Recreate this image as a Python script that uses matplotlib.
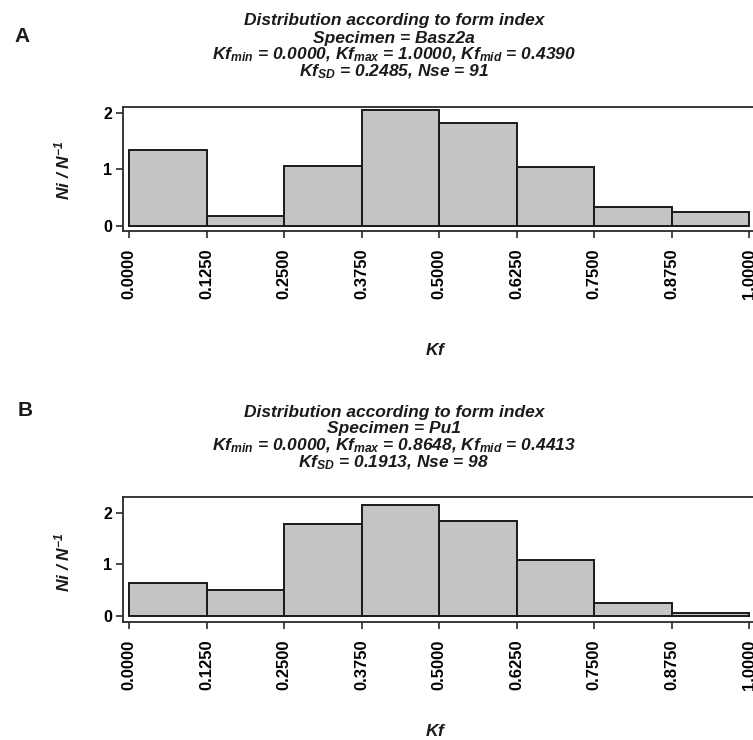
import matplotlib
matplotlib.use("Agg")
import matplotlib.pyplot as plt
import numpy as np

plt.rcParams['font.family'] = ['Liberation Sans', 'DejaVu Sans']
plt.rcParams['mathtext.fontset'] = 'custom'
plt.rcParams['mathtext.it'] = 'Liberation Sans:bold:italic'
plt.rcParams['mathtext.rm'] = 'Liberation Sans:bold:italic'
plt.rcParams['mathtext.bf'] = 'Liberation Sans:bold:italic'

# bin edges (Kf) and heights
bin_edges = [0.0, 0.125, 0.25, 0.375, 0.5, 0.625, 0.75, 0.875, 1.0]
heights_a = [1.34, 0.17, 1.06, 2.04, 1.81, 1.04, 0.34, 0.24]
heights_b = [0.64, 0.50, 1.77, 2.14, 1.84, 1.07, 0.25, 0.04]

panel_letters = ['A', 'B']
specimens = ['Basz2a', 'Pu1']
kf_min = ['0.0000', '0.0000']
kf_max = ['1.0000', '0.8648']
kf_mid = ['0.4390', '0.4413']
kf_sd = ['0.2485', '0.1913']
nse = ['91', '98']

W, H = 753, 740
fig = plt.figure(figsize=(W / 100, H / 100), dpi=100)

# pixel layout for each panel
layout = [
    dict(top=107, bottom=230.7, title_y=21, letter=(22, 36), kf_y=350, ylab_y=170),
    dict(top=496.7, bottom=621.7, title_y=412, letter=(25, 410), kf_y=731, ylab_y=562),
]
ylims = [(-0.083, 2.10), (-0.12, 2.31)]

left_px, right_px = 123.3, 760
x0_px, x1_px = 129.3, 749.3

for i, heights in enumerate([heights_a, heights_b]):
    L = layout[i]
    ax = fig.add_axes([left_px / W, 1 - L['bottom'] / H,
                       (right_px - left_px) / W, (L['bottom'] - L['top']) / H])
    scale = (x1_px - x0_px)
    ax.set_xlim(-(x0_px - left_px) / scale, (right_px - x0_px) / scale)
    ax.set_ylim(*ylims[i])

    widths = np.diff(bin_edges)
    ax.bar(bin_edges[:-1], heights, width=widths, align='edge',
           color='#c4c4c4', edgecolor='#1a1a1a', linewidth=1.4)

    for s in ax.spines.values():
        s.set_linewidth(1.3)
        s.set_color('#2a2a2a')

    ax.set_xticks(bin_edges)
    ax.set_xticklabels(['%.4f' % v for v in bin_edges], rotation=90,
                       fontsize=12, fontweight='bold')
    ax.set_yticks([0, 1, 2])
    ax.set_yticklabels(['0', '1', '2'], fontsize=11.5, fontweight='bold')
    ax.tick_params(direction='out', length=5, width=1.2, color='#2a2a2a', pad=3)
    ax.tick_params(axis='x', pad=8)

    # title block
    lines = [
        'Distribution according to form index',
        'Specimen = ' + specimens[i],
        r'$Kf_{min}$ = ' + kf_min[i] + r', $Kf_{max}$ = ' + kf_max[i]
        + r', $Kf_{mid}$ = ' + kf_mid[i],
        r'$Kf_{SD}$ = ' + kf_sd[i] + ', Nse = ' + nse[i],
    ]
    for k, line in enumerate(lines):
        fig.text(394 / W, 1 - (L['title_y'] + 17 * k) / H, line, ha='center', va='center',
                 fontsize=12.5, fontweight='bold', fontstyle='italic', color='#1a1a1a')

    fig.text(L['letter'][0] / W, 1 - L['letter'][1] / H, panel_letters[i],
             ha='center', va='center', fontsize=15, fontweight='bold', color='#1a1a1a')

    fig.text(436 / W, 1 - L['kf_y'] / H, r'$Kf$', ha='center', va='center',
             fontsize=12.5, color='#1a1a1a')
    fig.text(62 / W, 1 - L['ylab_y'] / H, r'Ni / N$^{-1}$', ha='center', va='center',
             rotation=90, fontsize=12.5, fontweight='bold', fontstyle='italic', color='#1a1a1a')

fig.savefig('out.png', dpi=100)
